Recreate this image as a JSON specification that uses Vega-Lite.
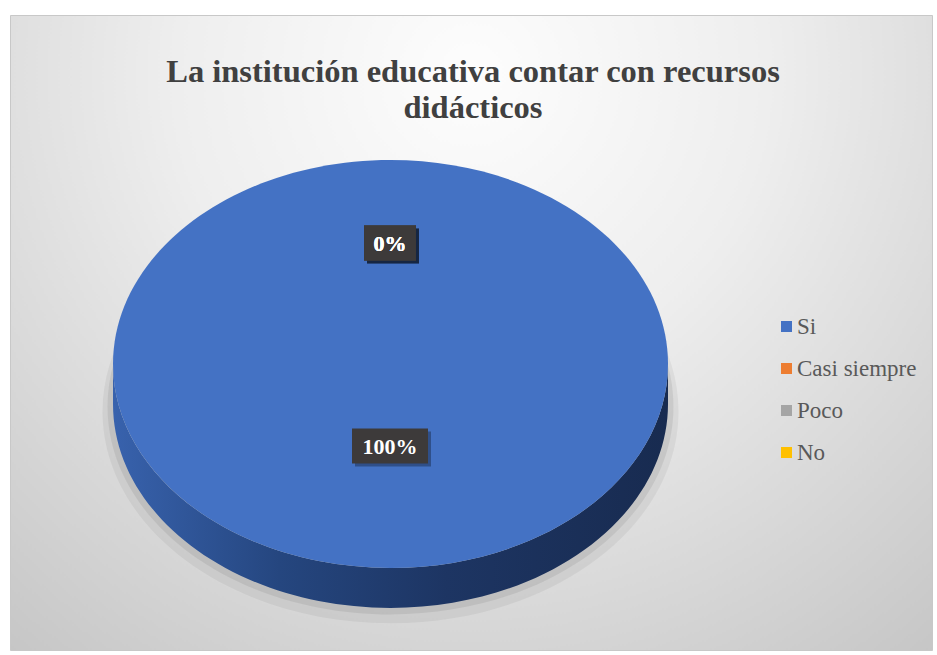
{
  "$schema": "https://vega.github.io/schema/vega-lite/v6.json",
  "width": 922,
  "height": 635,
  "autosize": {"type": "none"},
  "padding": {"left": 10, "top": 15, "right": 5, "bottom": 5},
  "background": "#ffffff",
  "title": {
    "text": ["La institución educativa contar con  recursos", "didácticos"],
    "font": "Liberation Serif",
    "fontSize": 32.5,
    "fontWeight": "bold",
    "color": "#404040",
    "anchor": "middle",
    "baseline": "alphabetic",
    "offset": 0,
    "dy": 135,
    "dx": 2,
    "lineHeight": 36
  },
  "config": {
    "view": {
      "fill": {
        "gradient": "radial",
        "x1": 0.5, "y1": 0.22, "r1": 0,
        "x2": 0.5, "y2": 0.22, "r2": 0.8,
        "stops": [
          {"offset": 0, "color": "#fdfdfd"},
          {"offset": 0.4, "color": "#eeeeee"},
          {"offset": 1, "color": "#c6c6c6"}
        ]
      },
      "stroke": "#c8c8c8",
      "strokeWidth": 1
    }
  },
  "data": {
    "values": [
      {"categoria": "Si", "porcentaje": 1},
      {"categoria": "Casi siempre", "porcentaje": 0},
      {"categoria": "Poco", "porcentaje": 0},
      {"categoria": "No", "porcentaje": 0}
    ]
  },
  "layer": [
    {
      "transform": [{"filter": "datum.porcentaje > 0"}],
      "mark": {
        "type": "point",
        "shape": "M-1,0 A1,0.735 0 1,1 1,0 A1,0.735 0 1,1 -1,0 Z",
        "size": 331776,
        "filled": true,
        "fill": "#000000",
        "opacity": 0.05,
        "strokeWidth": 0,
        "xOffset": -80.5,
        "yOffset": 79
      },
      "encoding": {}
    },
    {
      "transform": [{"filter": "datum.porcentaje > 0"}],
      "mark": {
        "type": "point",
        "shape": "M-1,0 A1,0.735 0 1,1 1,0 A1,0.735 0 1,1 -1,0 Z",
        "size": 320356,
        "filled": true,
        "fill": "#000000",
        "opacity": 0.07,
        "strokeWidth": 0,
        "xOffset": -80.5,
        "yOffset": 74
      },
      "encoding": {}
    },
    {
      "transform": [{"filter": "datum.porcentaje > 0"}],
      "mark": {
        "type": "point",
        "shape": "M-1,0 A1,0.735 0 0,0 1,0 L1,0.144 A1,0.735 0 0,1 -1,0.144 Z",
        "size": 308025,
        "filled": true,
        "fill": {
          "gradient": "linear",
          "x1": 0, "y1": 0, "x2": 1, "y2": 0,
          "stops": [
            {"offset": 0, "color": "#3862ad"},
            {"offset": 0.3, "color": "#25467f"},
            {"offset": 0.6, "color": "#1d3563"},
            {"offset": 1, "color": "#182b50"}
          ]
        },
        "opacity": 1,
        "strokeWidth": 0,
        "xOffset": -80.5,
        "yOffset": 31.5
      },
      "encoding": {}
    },
    {
      "transform": [{"filter": "datum.porcentaje > 0"}],
      "mark": {
        "type": "point",
        "shape": "M-1,0 A1,0.735 0 1,1 1,0 A1,0.735 0 1,1 -1,0 Z",
        "size": 308025,
        "filled": true,
        "opacity": 1,
        "strokeWidth": 0,
        "xOffset": -80.5,
        "yOffset": 31.5
      },
      "encoding": {
        "color": {
          "field": "categoria",
          "type": "nominal",
          "scale": {
            "domain": ["Si", "Casi siempre", "Poco", "No"],
            "range": ["#4472C4", "#ED7D31", "#A5A5A5", "#FFC000"]
          },
          "legend": {
            "orient": "none",
            "legendX": 765,
            "legendY": 300,
            "title": null,
            "symbolType": "square",
            "symbolSize": 121,
            "symbolStrokeWidth": 0,
            "symbolOpacity": 1,
            "labelFont": "Liberation Serif",
            "labelFontSize": 23,
            "labelColor": "#595959",
            "labelOffset": -1,
            "rowPadding": 18,
            "padding": 0
          }
        }
      }
    },
    {
      "mark": {
        "type": "point",
        "size": 5776,
        "filled": true,
        "fill": "#000000",
        "opacity": 0.3,
        "strokeWidth": 0,
        "xOffset": -78,
        "yOffset": 3
      },
      "encoding": {
        "y": {"field": "porcentaje", "type": "quantitative", "scale": {"domain": [0, 1], "range": [228, 431]}, "axis": null},
        "shape": {
          "field": "porcentaje",
          "type": "ordinal",
          "scale": {
            "domain": [0, 1],
            "range": ["M-0.684,-0.46 H0.684 V0.46 H-0.684 Z", "M-1,-0.46 H1 V0.46 H-1 Z"]
          },
          "legend": null
        }
      }
    },
    {
      "mark": {
        "type": "point",
        "size": 5776,
        "filled": true,
        "fill": "#3d3a3a",
        "opacity": 1,
        "strokeWidth": 0,
        "xOffset": -81
      },
      "encoding": {
        "y": {"field": "porcentaje", "type": "quantitative", "scale": {"domain": [0, 1], "range": [228, 431]}, "axis": null},
        "shape": {
          "field": "porcentaje",
          "type": "ordinal",
          "scale": {
            "domain": [0, 1],
            "range": ["M-0.684,-0.46 H0.684 V0.46 H-0.684 Z", "M-1,-0.46 H1 V0.46 H-1 Z"]
          },
          "legend": null
        }
      }
    },
    {
      "mark": {
        "type": "text",
        "font": "Liberation Serif",
        "fontSize": 22,
        "fontWeight": "bold",
        "color": "#ffffff",
        "baseline": "middle",
        "align": "center",
        "dy": 1,
        "xOffset": -81
      },
      "encoding": {
        "y": {"field": "porcentaje", "type": "quantitative", "scale": {"domain": [0, 1], "range": [228, 431]}, "axis": null},
        "text": {"field": "porcentaje", "type": "quantitative", "format": ".0%"}
      }
    }
  ]
}
